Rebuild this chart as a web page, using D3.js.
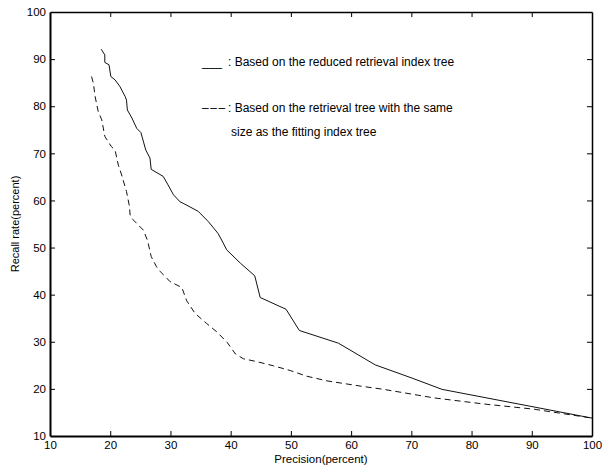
<!DOCTYPE html>
<html>
<head>
<meta charset="utf-8">
<script src="https://cdn.jsdelivr.net/npm/d3@7"></script>
<style>
  body { margin: 0; background: #fff; }
  text { font-family: "Liberation Sans", Arial, Helvetica, sans-serif; fill: #000; }
</style>
</head>
<body>
<div id="graph"></div>
<script>
// curve 1: reduced retrieval index tree (solid)
const precisionReduced = [18.5, 19.1, 19.1, 19.8, 20.1, 20.8, 21.6, 22.5, 22.7, 22.85, 23.6, 24.4, 25.1, 25.9, 26.6, 26.8, 28.8, 29.6, 30.5, 31.6, 32.1, 34.6, 36.3, 37.9, 38.5, 39.35, 41.6, 44.0, 44.9, 49.2, 51.4, 57.9, 64.0, 70.1, 75.1, 100];
const recallReduced = [92.1, 90.9, 89.3, 88.8, 86.3, 85.6, 84.2, 82.0, 81.3, 79.2, 77.5, 75.3, 74.4, 70.7, 69.0, 66.6, 65.1, 63.3, 61.2, 59.7, 59.4, 57.7, 55.5, 53.0, 51.6, 49.5, 46.7, 44.0, 39.4, 36.9, 32.4, 29.7, 25.1, 22.3, 19.9, 13.8];

// curve 2: retrieval tree of the same size (dashed)
const precisionSame = [16.9, 17.2, 17.5, 18.0, 18.6, 19.1, 20.2, 20.8, 21.35, 21.9, 22.7, 23.2, 23.3, 23.8, 25.5, 26.2, 26.8, 27.7, 28.3, 29.4, 29.9, 31.6, 31.9, 32.7, 34.1, 36.0, 37.7, 39.4, 40.8, 42.1, 44.3, 47.1, 49.9, 52.6, 56.0, 61.5, 65.4, 73.7, 82.0, 90.3, 100];
const recallSame = [86.3, 84.9, 82.0, 78.9, 77.1, 73.6, 71.4, 70.7, 67.5, 65.4, 61.9, 58.7, 56.9, 55.9, 53.7, 51.5, 48.1, 45.9, 44.9, 43.5, 42.8, 41.7, 41.5, 38.7, 36.0, 33.9, 32.1, 29.9, 27.4, 26.4, 25.8, 24.9, 23.9, 22.7, 21.7, 20.6, 19.9, 18.1, 16.8, 15.7, 13.8];

const xTicks = [10, 20, 30, 40, 50, 60, 70, 80, 90, 100];
const yTicks = [10, 20, 30, 40, 50, 60, 70, 80, 90, 100];

const legendMarks = ['___', '–––', ''];
const legendLabels = [
    ': Based on the reduced retrieval index tree',
    ': Based on the retrieval tree with the same',
    'size as the fitting index tree'
];

const svgWidth = 603;
const svgHeight = 465;
const plotLeft = 50, plotRight = 592, plotTop = 12, plotBottom = 436;

const svg = d3.select('#graph')
    .append('svg')
    .attr('width', svgWidth)
    .attr('height', svgHeight);

const x = d3.scaleLinear().domain([10, 100]).range([plotLeft, plotRight]);
const y = d3.scaleLinear().domain([10, 100]).range([plotBottom, plotTop]);

// axes: labelled bottom / left, tick-only top / right, ticks pointing inward
const xAxis = d3.axisBottom(x).tickValues(xTicks).tickSizeInner(-5).tickSizeOuter(0).tickPadding(5);
const yAxis = d3.axisLeft(y).tickValues(yTicks).tickSizeInner(-5).tickSizeOuter(0).tickPadding(4);

const gx = svg.append('g').attr('transform', `translate(0, ${plotBottom})`).call(xAxis);
const gy = svg.append('g').attr('transform', `translate(${plotLeft}, 0)`).call(yAxis);
const gxTop = svg.append('g').attr('transform', `translate(0, ${plotTop})`)
    .call(d3.axisTop(x).tickValues(xTicks).tickSizeInner(-5).tickSizeOuter(0).tickFormat(''));
const gyRight = svg.append('g').attr('transform', `translate(${plotRight}, 0)`)
    .call(d3.axisRight(y).tickValues(yTicks).tickSizeInner(-5).tickSizeOuter(0).tickFormat(''));

[gx, gy, gxTop, gyRight].forEach(g => {
    g.selectAll('.tick line').attr('stroke', '#000').attr('stroke-width', 1);
    g.selectAll('.tick text').style('font-size', '11.5px').attr('fill', '#000');
    // the end ticks sit on the frame
    g.selectAll('.tick line').filter(d => d === 10 || d === 100).remove();
});
gx.select('.domain').attr('stroke', '#000').attr('stroke-width', 2);
gy.select('.domain').attr('stroke', '#000').attr('stroke-width', 2);
gxTop.select('.domain').attr('stroke', '#000').attr('stroke-width', 1.3);
gyRight.select('.domain').attr('stroke', '#000').attr('stroke-width', 1.5);

const line = d3.line()
    .x(d => x(d[0]))
    .y(d => y(d[1]));

svg.append('path')
    .datum(precisionReduced.map((p, i) => [p, recallReduced[i]]))
    .attr('d', line)
    .attr('fill', 'none')
    .attr('stroke', '#111')
    .attr('stroke-width', 1);

svg.append('path')
    .datum(precisionSame.map((p, i) => [p, recallSame[i]]))
    .attr('d', line)
    .attr('fill', 'none')
    .attr('stroke', '#111')
    .attr('stroke-width', 1)
    .attr('stroke-dasharray', '6,4');

// axis titles
svg.append('text')
    .attr('x', (plotLeft + plotRight) / 2)
    .attr('y', 462.5)
    .attr('text-anchor', 'middle')
    .style('font-size', '11.5px')
    .text('Precision(percent)');

svg.append('text')
    .attr('transform', `translate(15, ${(plotTop + plotBottom) / 2}) rotate(-90)`)
    .attr('text-anchor', 'middle')
    .attr('dy', '0.35em')
    .style('font-size', '11px')
    .text('Recall rate(percent)');

// legend written as text inside the axes
const legendY = [66, 112, 136];
const legend = svg.append('g');
legend.selectAll('text.mark')
    .data(legendMarks)
    .enter()
    .append('text')
    .attr('class', 'mark')
    .attr('x', 202)
    .attr('y', (d, i) => legendY[i])
    .style('font-size', '12px')
    .style('letter-spacing', (d, i) => i === 1 ? '1.6px' : '0px')
    .text(d => d);
legend.selectAll('text.label')
    .data(legendLabels)
    .enter()
    .append('text')
    .attr('class', 'label')
    .attr('x', (d, i) => i === 2 ? 231 : 228)
    .attr('y', (d, i) => legendY[i])
    .style('font-size', '12px')
    .text(d => d);
</script>
</body>
</html>
